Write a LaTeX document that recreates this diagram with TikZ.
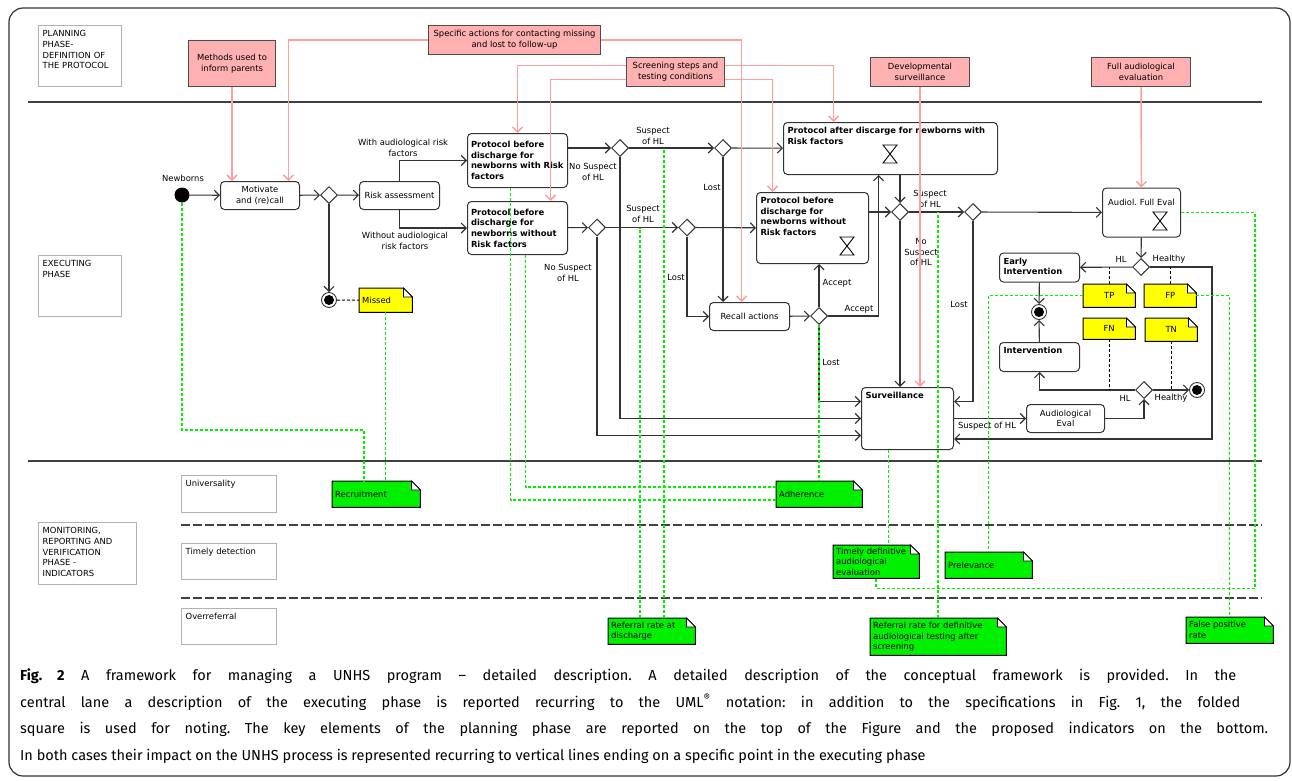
\documentclass[tikz,border=0pt]{standalone}
\usepackage{fontspec}
\setmainfont{DejaVu Sans}
\newfontfamily\capfont{Fira Sans}
\usetikzlibrary{positioning,shapes.geometric,arrows.meta}
\definecolor{planpink}{HTML}{FFB0B0}
\definecolor{planline}{HTML}{FF9E9E}
\definecolor{noteyel}{HTML}{FFFF00}
\definecolor{notegrn}{HTML}{00F000}
\definecolor{indline}{HTML}{00F000}
\newcommand{\dgfont}{\fontsize{8.4}{10.7}\selectfont}
\pgfdeclarelayer{back}
\pgfsetlayers{back,main}
\tikzset{%
    activity/.style={
      draw=black!80,
      fill=white,
      line width=1pt,
      rounded corners=4pt,
      inner sep=4pt,
      anchor=north west,
      font=\dgfont
    },
    activity bold/.style={
      activity,
      align=left,
      font=\dgfont\bfseries
    },
    decision/.style={
      diamond,
      draw=black!80,
      fill=white,
      line width=1pt,
      minimum size=17pt,
      inner sep=0pt
    },
    startdot/.style={
      circle,
      fill=black,
      minimum size=15pt,
      inner sep=0pt
    },
    enddot/.style={
      circle,
      draw=black!80,
      fill=white,
      line width=0.9pt,
      minimum size=15pt,
      inner sep=0pt,
      path picture={\fill[black] (path picture bounding box.center) circle (5pt);}
    },
    plan/.style={
      draw=black!70,
      fill=planpink,
      line width=1pt,
      anchor=north west,
      align=center,
      font=\dgfont
    },
    phase/.style={
      draw=black!30,
      line width=1.3pt,
      anchor=north west,
      align=left,
      inner sep=4pt,
      text height=7pt,
      font=\dgfont
    },
    note/.style={
      anchor=north west,
      inner xsep=3pt,
      inner ysep=2pt,
      align=left,
      font=\dgfont
    },
    lbl/.style={
      align=center,
      inner sep=0pt,
      font=\dgfont
    },
    caption/.style={
      anchor=base west,
      inner sep=0pt,
      font=\capfont\fontsize{14.5}{17}\selectfont
    },
    flow/.style={->, draw=black!80, line width=1.1pt},
    plink/.style={->, draw=planline, line width=1.5pt},
    glink/.style={draw=indline, line width=1.5pt, dash pattern=on 3pt off 2pt},
    nlink/.style={draw=black, line width=1pt, dash pattern=on 3pt off 2pt},
    lane/.style={draw=black!75, line width=1.5pt},
    hourglass/.pic={\draw[line width=0.9pt] (-7,-9) -- (7,-9) -- (-7,9) -- (7,9) -- cycle;}
  }

\begin{document}
\frenchspacing
\begin{tikzpicture}[x=1pt, y=-1pt, >={Straight Barb[length=5pt,width=10pt]}]
      \useasboundingbox (0,0) rectangle (1292,780);
      \draw[black!80, line width=1.2pt, rounded corners=14pt] (9,8) rectangle (1290,776);
      \draw[lane] (28,102) -- (1262,102);
      \draw[lane] (28,461) -- (1262,461);
      \draw[lane, dash pattern=on 9pt off 3pt] (181,525) -- (1262,525);
      \draw[lane, dash pattern=on 9pt off 3pt] (181,598) -- (1262,598);

      \node[phase, text width=75pt, text depth=46pt] (planning) at (38,25) {PLANNING\\PHASE-\\DEFINITION OF\\THE PROTOCOL};
      \node[phase, text width=75pt, text depth=46pt] (executing) at (38,255) {EXECUTING\\PHASE};
      \node[phase, text width=90pt, text depth=47pt] (monitoring) at (38,522) {MONITORING,\\REPORTING AND\\VERIFICATION\\PHASE -\\INDICATORS};
      \node[phase, text width=87pt, text depth=22pt] (univ) at (181,475) {Universality};
      \node[phase, text width=87pt, text depth=21pt] (timelydet) at (181,543) {Timely detection};
      \node[phase, text width=87pt, text depth=21pt] (overref) at (181,608) {Overreferral};

      \node[plan, minimum width=87pt, minimum height=46pt] (methods) at (188,40) {Methods used to\\inform parents};
      \node[plan, minimum width=172pt, minimum height=29pt] (specific) at (428,25) {Specific actions for contacting missing\\and lost to follow-up};
      \node[plan, minimum width=98pt, minimum height=29pt] (screening) at (626,57) {Screening steps and\\testing conditions};
      \node[plan, minimum width=99pt, minimum height=29pt] (devsurv) at (870,57) {Developmental\\surveillance};
      \node[plan, minimum width=99pt, minimum height=29pt] (fullaud) at (1091,57) {Full audiological\\evaluation};

      \node[startdot] (newborn) at (182,195) {};
      \node[activity, minimum width=79pt, minimum height=28pt, align=center] (motivate) at (220,181) {Motivate\\and (re)call};
      \node[decision] (d1) at (329,195) {};
      \node[activity, minimum width=80pt, minimum height=28pt] (risk) at (359,181) {Risk assessment};
      \node[enddot] (fin1) at (329,300) {};
      \node[activity bold, minimum height=54pt, text width=93pt, inner xsep=3.5pt] (pbw) at (467,133) {Protocol before\\discharge for\\newborns with Risk\\factors};
      \node[activity bold, minimum height=53pt, text width=93pt, inner xsep=3.5pt] (pbwo) at (467,201) {Protocol before\\discharge for\\newborns without\\Risk factors};
      \node[decision] (dw1) at (620,148) {};
      \node[decision] (dw2) at (723,148) {};
      \node[decision] (dwo1) at (597,227.5) {};
      \node[decision] (dwo2) at (687,227.5) {};
      \node[activity bold, text width=206pt, text height=7pt, text depth=37pt] (pa) at (783,122) {Protocol after discarge for newborns with\\Risk factors};
      \node[activity bold, text width=104pt, text height=7pt, text depth=56pt] (pbwo2) at (756,192) {Protocol before\\discharge for\\newborns without\\Risk factors};
      \node[activity, minimum width=80pt, minimum height=28pt] (recall) at (709,302) {Recall actions};
      \node[decision] (dr) at (819,316) {};
      \node[decision] (da1) at (900,212) {};
      \node[decision] (da2) at (973,212) {};
      \node[activity, align=center, text width=70pt, text height=13pt, text depth=28pt] (afe) at (1102,187.5) {Audiol. Full Eval};
      \node[decision] (df) at (1141,267) {};
      \node[activity bold, text width=72pt, text height=7pt, text depth=14pt] (early) at (999,252.5) {Early\\Intervention};
      \node[enddot] (fin2) at (1039,312) {};
      \node[activity bold, text width=72pt, text height=7pt, text depth=14pt] (interv) at (999,342) {Intervention};
      \node[decision] (dae) at (1144,390) {};
      \node[enddot] (fin3) at (1197,390) {};
      \node[activity, minimum width=78pt, minimum height=28pt, align=center] (audeval) at (1026,404) {Audiological\\Eval};
      \node[activity bold, text width=84pt, text height=7pt, text depth=47pt] (surv) at (861,387) {Surveillance};
      \coordinate (hloop) at (1212,439);

      \pic at (890,154) {hourglass};
      \pic at (847,246) {hourglass};
      \pic at (1160,221) {hourglass};

      \node[note, minimum width=53pt, minimum height=24pt, text width=47pt] (missed) at (359,288) {Missed};
      \node[note, minimum width=52pt, minimum height=23pt, text width=46pt, align=center] (tp) at (1083,284) {TP};
      \node[note, minimum width=52pt, minimum height=23pt, text width=46pt, align=center] (fp) at (1144,284) {FP};
      \node[note, minimum width=52pt, minimum height=21pt, text width=46pt, align=center] (fn) at (1083,318) {FN};
      \node[note, minimum width=52pt, minimum height=23pt, text width=46pt, align=center] (tn) at (1145,318) {TN};
      \node[note, minimum width=88pt, minimum height=26pt, text width=82pt] (recruit) at (332,481) {Recruitment};
      \node[note, minimum width=86pt, minimum height=26pt, text width=80pt] (adher) at (776,481) {Adherence};
      \node[note, minimum width=87pt, minimum height=26pt, text width=81pt] (refdis) at (608,618) {Referral rate at\\discharge};
      \node[note, minimum width=86pt, minimum height=33pt, text width=80pt] (timely) at (833,545) {Timely definitive\\audiological\\evaluation};
      \node[note, minimum width=87pt, minimum height=26pt, text width=81pt] (prev) at (945,552) {Prelevance};
      \node[note, minimum width=136pt, minimum height=37pt, text width=130pt] (refdef) at (870,618) {Referral rate for definitive\\audiological testing after\\screening};
      \node[note, minimum width=87pt, minimum height=26pt, text width=81pt] (fpr) at (1186,617) {False positive\\rate};

      \begin{pgfonlayer}{back}
        \foreach \nt/\nc in {missed/noteyel, tp/noteyel, fp/noteyel, fn/noteyel, tn/noteyel, recruit/notegrn, adher/notegrn, refdis/notegrn, timely/notegrn, prev/notegrn, refdef/notegrn, fpr/notegrn}{
          \filldraw[fill=\nc, draw=black, line width=1pt] (\nt.north west) -- ([xshift=-9pt]\nt.north east) -- ([yshift=-9pt]\nt.north east) -- (\nt.south east) -- (\nt.south west) -- cycle;
          \filldraw[fill=white, draw=black, line width=0.8pt] ([xshift=-9pt]\nt.north east) -- ([xshift=-9pt,yshift=-9pt]\nt.north east) -- ([yshift=-9pt]\nt.north east) -- cycle;
        }
      \end{pgfonlayer}

      \node[lbl] (lnewborn) at (183,178) {Newborns};
      \node[lbl] (lwith) at (403,148) {With audiological risk\\factors};
      \node[lbl] (lwithout) at (405,241) {Without audiological\\risk factors};
      \node[lbl] (lsw) at (653,136) {Suspect\\of HL};
      \node[lbl] (lnsw) at (593,172) {No Suspect\\of HL};
      \node[lbl] (lswo) at (643,214) {Suspect\\of HL};
      \node[lbl] (lnswo) at (568,273) {No Suspect\\of HL};
      \node[lbl] (llostw) at (712,187) {Lost};
      \node[lbl] (llostwo) at (676,277) {Lost};
      \node[lbl] (lacc1) at (837,283) {Accept};
      \node[lbl] (lacc2) at (859,309) {Accept};
      \node[lbl] (llostr) at (831,362) {Lost};
      \node[lbl] (lsa) at (930,199) {Suspect\\of HL};
      \node[lbl] (lnsa) at (921,252) {No\\Suspect\\of HL};
      \node[lbl] (llosta) at (959,304) {Lost};
      \node[lbl] (lhl1) at (1121,259) {HL};
      \node[lbl] (lok1) at (1169,259) {Healthy};
      \node[lbl] (lhl2) at (1125,398) {HL};
      \node[lbl] (lok2) at (1171,398) {Healthy};
      \node[lbl] (lss) at (987,426) {Suspect of HL};

      \draw[flow] (newborn) -- (motivate);
      \draw[flow] (motivate) -- (d1);
      \draw[flow] (d1) -- (risk);
      \draw[flow] (d1) -- (fin1);
      \draw[flow] (risk.north) |- (pbw.west);
      \draw[flow] (risk.south) |- (pbwo.west);
      \draw[flow] (pbw.east |- dw1) -- (dw1);
      \draw[flow] (pbwo) -- (dwo1);
      \draw[flow] (dw1) -- (dw2);
      \draw[flow] (dw2) -- (pa);
      \draw[flow] (dw1) |- (surv.west);
      \draw[flow] (dw2) -- (dw2 |- recall.north);
      \draw[flow] (dwo1) -- (dwo2);
      \draw[flow] (dwo1) |- ([yshift=-17pt]surv.west);
      \draw[flow] (dwo2) -- (pbwo2);
      \draw[flow] (dwo2) |- (recall.west);
      \draw[flow] (recall) -- (dr);
      \draw[flow] (dr) -- (dr |- pbwo2.south);
      \draw[flow] (dr) -| ([xshift=-12pt]pa.south);
      \draw[flow] (dr) |- ([yshift=17pt]surv.west);
      \draw[flow] (pa.south -| da1) -- (da1);
      \draw[flow] (pbwo2.east |- da1) -- (da1);
      \draw[flow] (da1) -- (da2);
      \draw[flow] (da1) -- (da1 |- surv.north);
      \draw[flow] (da2) -- (afe);
      \draw[flow] (da2) |- ([yshift=17pt]surv.east);
      \draw[flow] (afe) -- (df);
      \draw[flow] (df) -- (early);
      \draw[flow] (df) -| (hloop) -- (hloop -| surv.east);
      \draw[flow] (early) -- (fin2);
      \draw[flow] (interv) -- (fin2);
      \draw[flow] (surv) -- (audeval);
      \draw[flow] (audeval) -| (dae);
      \draw[flow] (dae) -| (interv);
      \draw[flow] (dae) -- (fin3);

      \draw[nlink] (fin1) -- (missed);
      \draw[nlink] (tp) -- (tp |- df);
      \draw[nlink] (fp) -- (fp |- df);
      \draw[nlink] (fn) -- (fn |- dae);
      \draw[nlink] (tn) -- (tn |- dae);

      \draw[plink] (methods) -- (methods |- motivate.north);
      \draw[plink] (specific.west) -| ([xshift=28.5pt]motivate.north);
      \draw[plink] (specific.east) -| ([xshift=-8pt]recall.north);
      \draw[plink] ([yshift=6.5pt]screening.west) -| (pbw.north);
      \draw[plink] ([yshift=-7.5pt]screening.west) -| ([xshift=33pt]pbwo.north);
      \draw[plink] ([yshift=6.5pt]screening.east) -| ([xshift=-57pt]pa.north);
      \draw[plink] ([yshift=-7.5pt]screening.east) -| ([xshift=-40pt]pbwo2.north);
      \draw[plink] (devsurv) -- (devsurv |- surv.north);
      \draw[plink] (fullaud) -- (afe);

      \draw[glink] (newborn) -- ++(0,235) -| ([xshift=-12pt]recruit.north);
      \draw[glink] (missed) -- (missed |- recruit.north);
      \draw[glink] ([xshift=-7pt]pbw.south) |- ([yshift=-6pt]adher.west);
      \draw[glink] ([xshift=8pt]pbwo.south) |- ([yshift=7pt]adher.west);
      \draw[glink] (dr) -- (dr |- adher.north);
      \draw[glink] ([xshift=-11.5pt]refdis.north) -- ([xshift=-11.5pt]refdis.north |- dwo2);
      \draw[glink] ([xshift=12.5pt]refdis.north) -- ([xshift=12.5pt]refdis.north |- dw1);
      \draw[glink] ([xshift=-19pt]surv.south) -- ([xshift=-19pt]surv.south |- timely.north);
      \draw[glink] (refdef) -- (refdef |- da1);
      \draw[glink] (tp) -| (prev);
      \draw[glink] (fp) -| (fpr);
      \draw[glink] (afe.east) -- ++(74,0) |- ([yshift=-10pt]timely.south) -- (timely.south);

      \node[caption] (cap1) at (20,680) {\makebox[1216pt][s]{\textbf{Fig. 2} A framework for managing a UNHS program – detailed description. A detailed description of the conceptual framework is provided. In the}};
      \node[caption] (cap2) at (20,707) {\makebox[1220pt][s]{central lane a description of the executing phase is reported recurring to the UML\textsuperscript{®} notation: in addition to the specifications in Fig.~1, the folded}};
      \node[caption] (cap3) at (20,733.5) {\makebox[1248pt][s]{square is used for noting. The key elements of the planning phase are reported on the top of the Figure and the proposed indicators on the bottom.}};
      \node[caption] (cap4) at (20,760) {In both cases their impact on the UNHS process is represented recurring to vertical lines ending on a specific point in the executing phase};
\end{tikzpicture}
\end{document}
